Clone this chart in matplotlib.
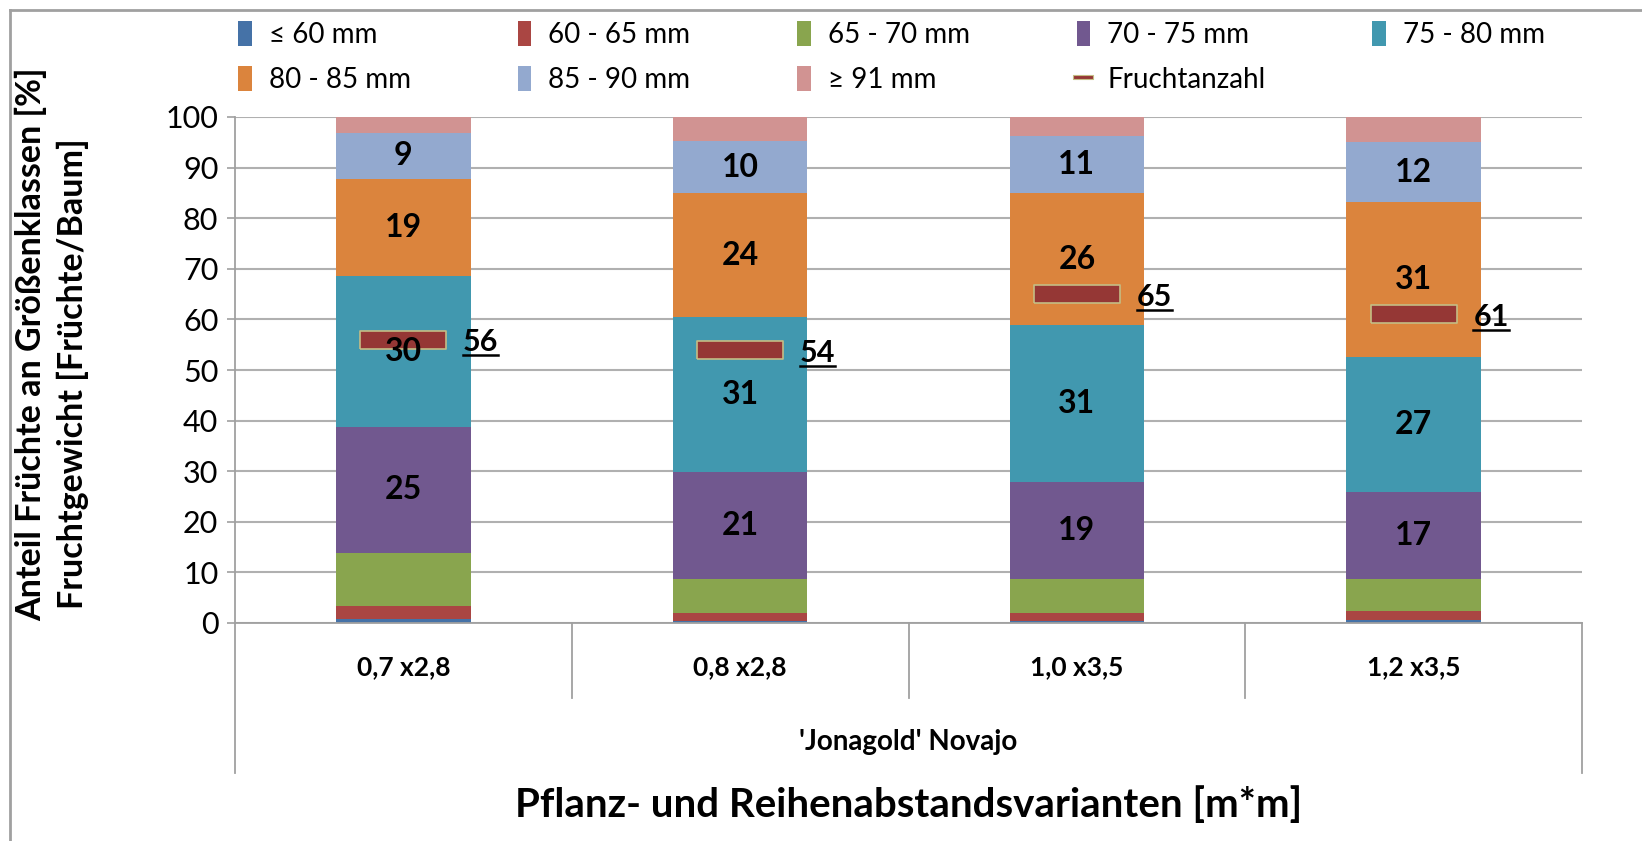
import numpy as np
from matplotlib import pyplot as plt
from matplotlib.lines import Line2D
from matplotlib.patches import Patch
from matplotlib.transforms import IdentityTransform

plt.rcParams['font.family'] = ['Lato', 'DejaVu Sans']

# categories
varianten = ['0,7 x2,8', '0,8 x2,8', '1,0 x3,5', '1,2 x3,5']
sorte = "'Jonagold' Novajo"

# size class shares [%]
klassen = ['≤ 60 mm', '60 - 65 mm', '65 - 70 mm', '70 - 75 mm', '75 - 80 mm',
           '80 - 85 mm', '85 - 90 mm', '≥ 91 mm']
le60 = [0.7, 0.3, 0.3, 0.5]
k60_65 = [2.6, 1.7, 1.7, 1.8]
k65_70 = [10.6, 6.7, 6.6, 6.4]
k70_75 = [24.9, 21.1, 19.2, 17.1]
k75_80 = [29.7, 30.7, 31.0, 26.7]
k80_85 = [19.3, 24.4, 26.2, 30.7]
k85_90 = [9.1, 10.4, 11.3, 11.8]
ge91 = [3.1, 4.7, 3.7, 5.0]

# fruits per tree
fruchtanzahl = [56, 54, 65, 61]

farben = ['#4572a7', '#aa4643', '#89a54e', '#71588f', '#4198af',
          '#db843d', '#93a9cf', '#d19392']
beschriften = [False, False, False, True, True, True, True, False]

serien = [le60, k60_65, k65_70, k70_75, k75_80, k80_85, k85_90, ge91]

W, H = 1642, 841
fig = plt.figure(figsize=(W/100, H/100), dpi=100)
ax = fig.add_axes([235/W, 1-623/H, (1582-235)/W, (623-117)/H])

x = np.arange(len(varianten))
unten = np.zeros(len(varianten))
for werte, farbe, lab in zip(serien, farben, beschriften):
    werte = np.array(werte)
    ax.bar(x, werte, 0.4, bottom=unten, color=farbe, zorder=2)
    if lab:
        for xi, b, v in zip(x, unten, werte):
            ax.text(xi, b + v/2, f'{v:.0f}', ha='center', va='center',
                    fontsize=23, fontweight='bold', zorder=7)
    unten += werte

# fruit count marker
marker = [(-4.8, -1), (4.8, -1), (4.8, 1), (-4.8, 1), (-4.8, -1)]
ax.plot(x, fruchtanzahl, ls='none', marker=marker, markersize=62,
        markerfacecolor='#953735', markeredgecolor='#c4bd85',
        markeredgewidth=1.2, zorder=5)
zahl_texte = []
for xi, n in zip(x, fruchtanzahl):
    t = ax.annotate(str(n), (xi, n), xytext=(43, -2), textcoords='offset points',
                    ha='left', va='center', fontsize=22, fontweight='bold', zorder=6)
    zahl_texte.append(t)

ax.set_xlim(-0.5, 3.5)
ax.set_ylim(0, 100)
ax.set_yticks(np.arange(0, 101, 10))
ax.set_xticks([])
ax.tick_params(axis='y', labelsize=22, length=6, color='#a0a0a0', width=1.2, pad=6)
ax.yaxis.grid(True, color='#b0b0b0', lw=1.5, zorder=0)
for s in ['top', 'right']:
    ax.spines[s].set_visible(False)
for s in ['left', 'bottom']:
    ax.spines[s].set_color('#a0a0a0')
    ax.spines[s].set_linewidth(1.3)

# category axis with separators
tr = ax.get_xaxis_transform()
for b in [0.5, 1.5, 2.5]:
    ax.plot([b, b], [0, -0.148], transform=tr, clip_on=False, color='#a0a0a0', lw=1.3)
for b in [-0.5, 3.5]:
    ax.plot([b, b], [0, -0.296], transform=tr, clip_on=False, color='#a0a0a0', lw=1.3)
for xi, name in zip(x, varianten):
    ax.text(xi, -0.087, name, transform=tr, ha='center', va='center',
            fontsize=19, fontweight='bold')
ax.text(1.5, -0.235, sorte, transform=tr, ha='center', va='center',
        fontsize=20, fontweight='bold')
ax.text(1.5, -0.36, 'Pflanz- und Reihenabstandsvarianten [m*m]', transform=tr,
        ha='center', va='center', fontsize=29, fontweight='bold')

fig.text(31/W, 1-344/H, 'Anteil Früchte an Größenklassen [%]', rotation=90,
         ha='center', va='center', fontsize=24.5, fontweight='bold')
fig.text(73/W, 1-374/H, 'Fruchtgewicht [Früchte/Baum]', rotation=90,
         ha='center', va='center', fontsize=24.5, fontweight='bold')

# legend (row-major order)
handles = [Patch(facecolor=f, label=k) for f, k in zip(farben, klassen)]
handles.append(Line2D([], [], ls='none', marker=marker, markersize=14,
                      markerfacecolor='#953735', markeredgecolor='#c4bd85',
                      markeredgewidth=0.8, label='Fruchtanzahl'))
order = [0, 5, 1, 6, 2, 7, 3, 8, 4]
fig.legend([handles[i] for i in order], [handles[i].get_label() for i in order],
           ncol=5, loc='upper left', bbox_to_anchor=(213/W, 1+4/H),
           frameon=False, fontsize=20, handlelength=0.5, handleheight=1.0,
           handletextpad=0.6, columnspacing=3.85, labelspacing=0.65)

# frame (left and top)
fig.add_artist(Line2D([10/W, 10/W], [0, 1-10/H], color='#a0a0a0', lw=2))
fig.add_artist(Line2D([10/W, 1], [1-10/H, 1-10/H], color='#a0a0a0', lw=2))

# underline the fruit counts
fig.canvas.draw()
r = fig.canvas.get_renderer()
for t in zahl_texte:
    bb = t.get_window_extent(r)
    fig.add_artist(Line2D([bb.x0, bb.x1], [bb.y0 + 1, bb.y0 + 1],
                          transform=IdentityTransform(), color='black', lw=1.8))

fig.savefig('out.png', dpi=100)
